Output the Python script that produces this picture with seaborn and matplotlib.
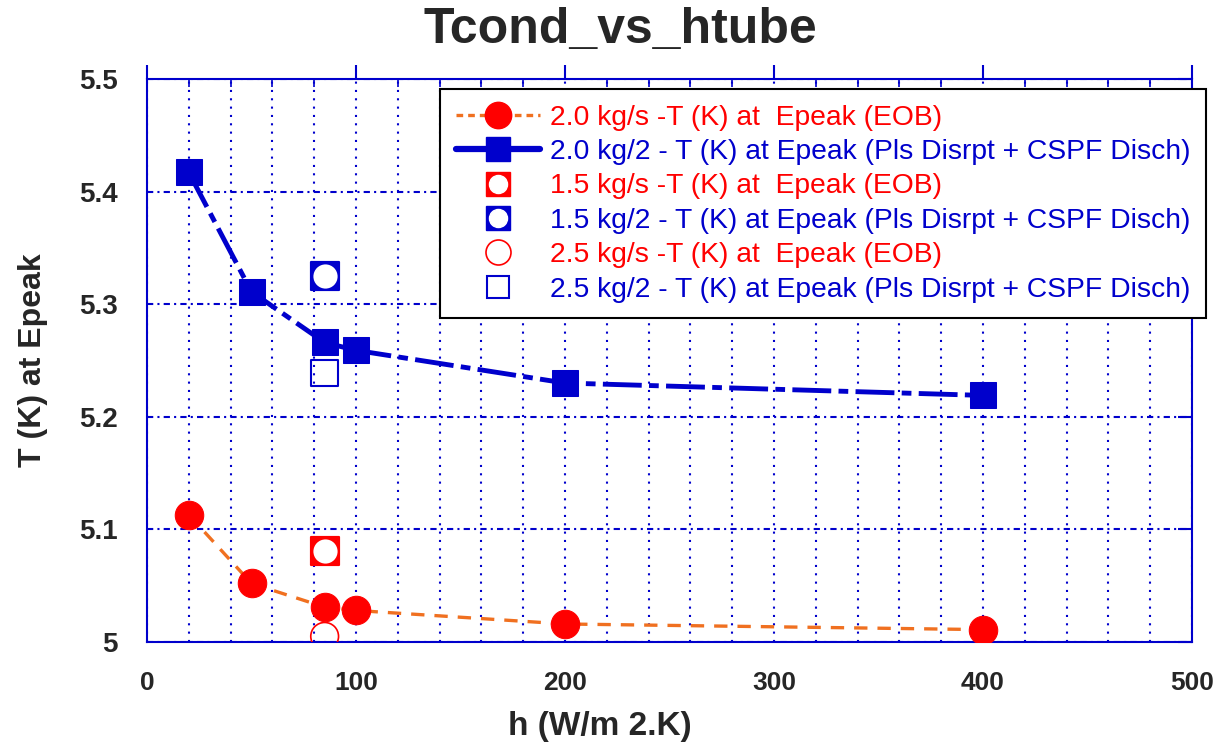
import numpy as np
import pandas as pd
import matplotlib.pyplot as plt
import seaborn as sns
from matplotlib.lines import Line2D
from matplotlib.legend_handler import HandlerTuple
from matplotlib.ticker import MultipleLocator, FormatStrFormatter

# values
h_main = [20, 50, 85, 100, 200, 400]
t_eob_20 = [5.113, 5.052, 5.031, 5.028, 5.016, 5.011]
t_pls_20 = [5.417, 5.311, 5.266, 5.259, 5.230, 5.219]

h_single = [85]
t_eob_15 = [5.081]
t_pls_15 = [5.325]
t_eob_25 = [5.005]
t_pls_25 = [5.239]

labels = [
    '2.0 kg/s -T (K) at  Epeak (EOB)',
    '2.0 kg/2 - T (K) at Epeak (Pls Disrpt + CSPF Disch)',
    '1.5 kg/s -T (K) at  Epeak (EOB)',
    '1.5 kg/2 - T (K) at Epeak (Pls Disrpt + CSPF Disch)',
    '2.5 kg/s -T (K) at  Epeak (EOB)',
    '2.5 kg/2 - T (K) at Epeak (Pls Disrpt + CSPF Disch)',
]

RED = '#ff0000'
ORANGE = '#f07020'
BLUE = '#0000cc'

sns.set_style('white')
plt.rcParams['font.family'] = ['Liberation Sans', 'DejaVu Sans']

fig = plt.figure(figsize=(12.18, 7.51), dpi=100)
ax = fig.add_axes([147 / 1218, 1 - 642 / 751, 1045 / 1218, 563 / 751])

# main curves
sns.lineplot(x=h_main, y=t_eob_20, ax=ax, color=ORANGE, lw=2.4,
             linestyle=(0, (4, 3)), marker='o', markersize=20.5,
             markerfacecolor=RED, markeredgecolor=RED, zorder=4)
sns.lineplot(x=h_main, y=t_pls_20, ax=ax, color=BLUE, lw=3.5,
             linestyle=(0, (8, 1.5, 2, 1.5)), marker='s', markersize=19,
             markerfacecolor=BLUE, markeredgecolor=BLUE, zorder=4)

# single points
sns.scatterplot(x=h_single, y=t_eob_15, ax=ax, marker='s', s=380,
                color=RED, edgecolor=RED, zorder=5)
sns.scatterplot(x=h_single, y=t_eob_15, ax=ax, marker='o', s=260,
                color='white', edgecolor='white', zorder=6)
sns.scatterplot(x=h_single, y=t_pls_15, ax=ax, marker='s', s=380,
                color=BLUE, edgecolor=BLUE, zorder=5)
sns.scatterplot(x=h_single, y=t_pls_15, ax=ax, marker='o', s=260,
                color='white', edgecolor='white', zorder=6)
sns.scatterplot(x=h_single, y=t_eob_25, ax=ax, marker='o', s=400,
                facecolor='none', edgecolor=RED, linewidth=1.2, zorder=5)
sns.scatterplot(x=h_single, y=t_pls_25, ax=ax, marker='s', s=360,
                facecolor='none', edgecolor=BLUE, linewidth=1.5, zorder=5)

ax.set_xlim(0, 500)
ax.set_ylim(5.0, 5.5)
ax.xaxis.set_major_locator(MultipleLocator(100))
ax.xaxis.set_minor_locator(MultipleLocator(20))
ax.yaxis.set_major_locator(MultipleLocator(0.1))
ax.yaxis.set_major_formatter(FormatStrFormatter('%g'))

ax.xaxis.grid(True, which='both', color=BLUE, lw=1.5, linestyle=(0, (1, 3)))
ax.yaxis.grid(True, which='major', color=BLUE, lw=1.5, linestyle=(0, (3, 2, 1, 2)))
ax.set_axisbelow(True)

for sp in ax.spines.values():
    sp.set_color(BLUE)
    sp.set_linewidth(1.5)

ax.tick_params(axis='x', which='major', direction='out', length=10, width=1.5,
               color=BLUE, top=True, pad=11, labelsize=19)
ax.tick_params(axis='x', which='minor', direction='in', length=6, width=1.2,
               color=BLUE, top=True)
ax.tick_params(axis='y', which='major', direction='in', length=10, width=1.5,
               color=BLUE, right=True, pad=21, labelsize=20)
for lab in ax.get_xticklabels() + ax.get_yticklabels():
    lab.set_fontweight('bold')

ax.set_xlabel('h (W/m 2.K)', fontsize=24, fontweight='bold')
ax.xaxis.set_label_coords((600 - 147) / 1045, (642 - 727) / 563)
ax.xaxis.label.set_va('center')
ax.set_ylabel('T (K) at Epeak', fontsize=23, fontweight='bold')
ax.yaxis.set_label_coords((33 - 147) / 1045, (642 - 360) / 563)
ax.yaxis.label.set_va('center')

fig.text(620 / 1218, 1 - 30 / 751, 'Tcond_vs_htube', fontsize=36,
         fontweight='bold', ha='center', va='center')

# legend
h1 = Line2D([], [], color=ORANGE, lw=2.4, linestyle=(0, (2, 1.5)), marker='o',
            markersize=19, markerfacecolor=RED, markeredgecolor=RED)
h2 = Line2D([], [], color=BLUE, lw=4.5, marker='s', markersize=17,
            markerfacecolor=BLUE, markeredgecolor=BLUE)
h3 = (Line2D([], [], ls='none', marker='s', markersize=17, color=RED),
      Line2D([], [], ls='none', marker='o', markersize=13, color='white'))
h4 = (Line2D([], [], ls='none', marker='s', markersize=17, color=BLUE),
      Line2D([], [], ls='none', marker='o', markersize=13, color='white'))
h5 = Line2D([], [], ls='none', marker='o', markersize=18, markerfacecolor='none',
            markeredgecolor=RED, markeredgewidth=1.2)
h6 = Line2D([], [], ls='none', marker='s', markersize=16, markerfacecolor='none',
            markeredgecolor=BLUE, markeredgewidth=1.5)

leg = fig.legend([h1, h2, h3, h4, h5, h6], labels,
                 handler_map={tuple: HandlerTuple(ndivide=1)},
                 loc='upper left', bbox_to_anchor=(440 / 1218, 1 - 89 / 751),
                 fontsize=20.3, frameon=True, fancybox=False, framealpha=1,
                 edgecolor='black', handlelength=3.0, handletextpad=0.35,
                 labelspacing=0.3, borderpad=0.55, borderaxespad=0)
leg.get_frame().set_linewidth(1.5)
for txt, c in zip(leg.get_texts(), [RED, BLUE, RED, BLUE, RED, BLUE]):
    txt.set_color(c)

fig.savefig('out.png', dpi=100)
